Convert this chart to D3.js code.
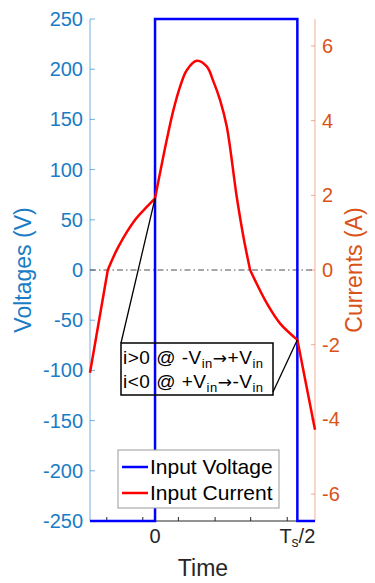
<!DOCTYPE html>
<head>
  <meta charset="utf-8">
  <script src="https://d3js.org/d3.v7.min.js"></script>
  <style>
    body { margin: 0; background: #fff; }
    text { font-family: "Liberation Sans", Arial, sans-serif; }
  </style>
</head>
<body>
<div id="root"></div>
<script>
// time is normalised: 0 -> start of the half period, 1 -> Ts/2
var timeDomain = [-0.457, 1.124];
var minorTicks = [-0.339, -0.086, 0.164, 0.422, 0.672, 0.929];
var labelTicks = [0, 1];
var voltTicks = [-250, -200, -150, -100, -50, 0, 50, 100, 150, 200, 250];
var currTicks = [-6, -4, -2, 0, 2, 4, 6];

// input voltage (square wave)
var voltageTime = [-0.457, 0, 0, 1, 1, 1.124];
var voltageValue = [-250, -250, 250, 250, -250, -250];

// input current
var currentTime = [-0.457, -0.332, -0.258, -0.141, -0.058, 0, 0.082, 0.129, 0.176, 0.223, 0.293, 0.363, 0.410, 0.457, 0.504, 0.574, 0.621, 0.668, 0.785, 0.878, 1.0, 1.124];
var currentValue = [-2.75, 0, 0.62, 1.34, 1.69, 1.92, 3.48, 4.28, 4.91, 5.35, 5.60, 5.45, 5.05, 4.55, 3.84, 1.96, 0.89, 0, -0.89, -1.43, -1.87, -4.28];
// where the current waveform has corners
var kinkTimes = [-0.332, 0, 0.668, 1.0];

var W = 375, H = 583;
var svg = d3.select("#root").append("svg")
  .attr("width", W).attr("height", H);

var x = d3.scaleLinear().domain(timeDomain).range([90, 315]);
var yV = d3.scaleLinear().domain([-250, 250]).range([521, 19]);
var yI = d3.scaleLinear().domain([-6.72, 6.72]).range([521, 19]);

var blueAx = "#1a7cc4", orangeAx = "#D95319";

// ---- bottom axis ----
var bottom = svg.append("g").attr("transform", "translate(0,521)");
bottom.append("line").attr("x1", 90).attr("x2", 315).attr("stroke", "#262626").attr("stroke-width", 1);
bottom.selectAll(".mt").data(minorTicks.concat(labelTicks)).enter().append("line")
  .attr("x1", d => x(d)).attr("x2", d => x(d)).attr("y1", 0).attr("y2", -4)
  .attr("stroke", "#262626").attr("stroke-width", 1);
bottom.append("text").attr("x", x(0)).attr("y", 22).attr("text-anchor", "middle")
  .attr("font-size", 20).attr("fill", "#262626").text("0");
var xl2 = bottom.append("text").attr("x", x(1)).attr("y", 22).attr("text-anchor", "middle")
  .attr("font-size", 20).attr("fill", "#262626");
xl2.append("tspan").text("T");
xl2.append("tspan").attr("font-size", 14).attr("dy", 4).text("s");
xl2.append("tspan").attr("dy", -4).text("/2");
svg.append("text").attr("x", 203).attr("y", 576).attr("text-anchor", "middle")
  .attr("font-size", 23).attr("fill", "#262626").text("Time");

// ---- left axis ----
var left = svg.append("g").attr("transform", "translate(90,0)");
left.append("line").attr("y1", 19).attr("y2", 521).attr("stroke", blueAx).attr("stroke-opacity", 0.6);
left.selectAll(".t").data(voltTicks).enter().append("line")
  .attr("x1", 0).attr("x2", 5).attr("y1", d => yV(d)).attr("y2", d => yV(d))
  .attr("stroke", blueAx).attr("stroke-opacity", 0.6);
left.selectAll(".l").data(voltTicks).enter().append("text")
  .attr("x", -7).attr("y", d => yV(d)).attr("dy", "0.35em").attr("text-anchor", "end")
  .attr("font-size", 20).attr("fill", blueAx).text(d => d);
svg.append("text").attr("transform", "translate(31,270) rotate(-90)").attr("text-anchor", "middle")
  .attr("font-size", 23).attr("fill", blueAx).text("Voltages (V)");

// ---- right axis ----
var right = svg.append("g").attr("transform", "translate(315,0)");
right.append("line").attr("y1", 19).attr("y2", 521).attr("stroke", orangeAx).attr("stroke-opacity", 0.45);
right.selectAll(".t").data(currTicks).enter().append("line")
  .attr("x1", 0).attr("x2", -4).attr("y1", d => yI(d)).attr("y2", d => yI(d))
  .attr("stroke", orangeAx).attr("stroke-opacity", 0.45);
right.selectAll(".l").data(currTicks).enter().append("text")
  .attr("x", 7).attr("y", d => yI(d)).attr("dy", "0.35em")
  .attr("font-size", 20).attr("fill", orangeAx).text(d => d);
svg.append("text").attr("transform", "translate(362,270) rotate(-90)").attr("text-anchor", "middle")
  .attr("font-size", 23).attr("fill", orangeAx).text("Currents (A)");

// zero line
svg.append("line").attr("x1", 90).attr("x2", 315).attr("y1", yV(0)).attr("y2", yV(0))
  .attr("stroke", "#222").attr("stroke-width", 0.8).attr("stroke-dasharray", "6,3,1.5,3");

// ---- voltage ----
var vData = voltageTime.map((t, i) => [t, voltageValue[i]]);
svg.append("path").datum(vData)
  .attr("d", d3.line().x(d => x(d[0])).y(d => yV(d[1])))
  .attr("fill", "none").attr("stroke", "#0000FF").attr("stroke-width", 2.5);

// ---- current, drawn piece by piece between corners ----
var iData = currentTime.map((t, i) => [t, currentValue[i]]);
var bounds = [timeDomain[0]].concat(kinkTimes, [timeDomain[1]]);
var iLine = d3.line().x(d => x(d[0])).y(d => yI(d[1])).curve(d3.curveCatmullRom.alpha(0.5));
var pieces = d3.pairs(bounds).map(b => iData.filter(d => d[0] >= b[0] - 1e-9 && d[0] <= b[1] + 1e-9));
svg.append("path")
  .attr("d", pieces.map(p => iLine(p)).join(""))
  .attr("fill", "none").attr("stroke", "#FF0000").attr("stroke-width", 2.5)
  .attr("stroke-linejoin", "round");

// ---- annotation ----
var boxL = 121, boxR = 273, boxT = 343, boxB = 395;
var at0 = iData.find(d => d[0] === 0), at1 = iData.find(d => d[0] === 1);
svg.append("line").attr("x1", boxL).attr("y1", boxT).attr("x2", x(at0[0])).attr("y2", yI(at0[1]))
  .attr("stroke", "#000").attr("stroke-width", 1.3);
svg.append("line").attr("x1", boxR).attr("y1", boxB - 3).attr("x2", x(at1[0])).attr("y2", yI(at1[1]))
  .attr("stroke", "#000").attr("stroke-width", 1.3);
svg.append("rect").attr("x", boxL).attr("y", boxT).attr("width", boxR - boxL).attr("height", boxB - boxT)
  .attr("fill", "none").attr("stroke", "#000").attr("stroke-width", 1.5);

function annot(y, parts) {
  var t = svg.append("text").attr("x", boxL + 2).attr("y", y).attr("font-size", 19)
    .attr("letter-spacing", 0.5).attr("fill", "#000");
  parts.forEach(function(p) {
    var s = t.append("tspan").text(p.s);
    if (p.sub) s.attr("font-size", 13).attr("dy", 4);
    if (p.up) s.attr("dy", -4);
    if (p.arrow) s.attr("font-family", "DejaVu Sans").attr("font-size", 17);
  });
}
annot(364, [{s: "i>0 @ -V"}, {s: "in", sub: true}, {s: "\u2192", up: true, arrow: true}, {s: "+V"}, {s: "in", sub: true}]);
annot(388, [{s: "i<0 @ +V"}, {s: "in", sub: true}, {s: "\u2192", up: true, arrow: true}, {s: "-V"}, {s: "in", sub: true}]);

// ---- legend ----
var lg = svg.append("g").attr("transform", "translate(118,450)");
lg.append("rect").attr("width", 161).attr("height", 58).attr("fill", "#fff")
  .attr("stroke", "#999").attr("stroke-width", 1);
var legendItems = [["Input Voltage", "#0000FF"], ["Input Current", "#FF0000"]];
legendItems.forEach(function(d, i) {
  var cy = 17 + i * 26;
  lg.append("line").attr("x1", 4).attr("x2", 30).attr("y1", cy).attr("y2", cy)
    .attr("stroke", d[1]).attr("stroke-width", 2.5);
  lg.append("text").attr("x", 32).attr("y", cy).attr("dy", "0.35em")
    .attr("font-size", 21).attr("fill", "#000").text(d[0]);
});
</script>
</body>
